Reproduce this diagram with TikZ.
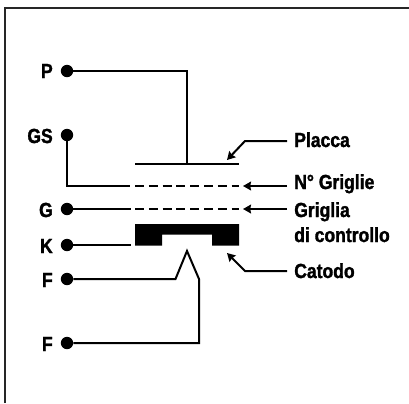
\documentclass[tikz,border=0pt]{standalone}
\usepackage{fontspec}
\setmainfont[FakeStretch=0.86,BoldFeatures={FakeBold=1.5}]{Liberation Sans}
\usetikzlibrary{arrows.meta}

\begin{document}
\begin{tikzpicture}[x=0.025cm,y=-0.025cm,
                every node/.style={font=\fontsize{14.5pt}{14.5pt}\selectfont\bfseries,inner sep=0pt},
                pin/.style={circle,fill=black,minimum size=0.31cm},
                wire/.style={line width=0.05cm},
                griddash/.style={line width=0.05cm,dash pattern=on 0.225cm off 0.12cm},
                pointer/.style={line width=0.05cm,-{Stealth[length=0.2cm,width=0.22cm,inset=0.02cm]}}]
        \useasboundingbox (0,0) rectangle (409,403);
        %----------------  cornice  ----------------
        \draw[line width=0.06cm,black!85] (5,403) -- (5,8) -- (409,8);

        %----------------  piedini  ----------------
        \node[pin] (p)  at (67,71)  {};
        \node[pin] (gs) at (67,135) {};
        \node[pin] (g)  at (67,209) {};
        \node[pin] (k)  at (67,245) {};
        \node[pin] (f1) at (67,279) {};
        \node[pin] (f2) at (67,343) {};
        \node[anchor=base east] at (53,78)  {P};
        \node[anchor=base east] at (53,143) {GS};
        \node[anchor=base east] at (53,217) {G};
        \node[anchor=base east] at (53,253) {K};
        \node[anchor=base east] at (53,287) {F};
        \node[anchor=base east] at (53,351) {F};

        %----------------  valvola  ----------------
        \coordinate (pl) at (135,164);
        \coordinate (pr) at (239,164);
        \coordinate (pm) at (187,164);
        \coordinate (sl) at (135,186);
        \coordinate (sr) at (239,186);
        \coordinate (gl) at (135,209);
        \coordinate (gr) at (239,209);
        \draw[wire] (pl) -- (pr);
        \draw[griddash] (sl) -- (sr);
        \draw[griddash] (gl) -- (gr);
        \fill (135,224) -- (239,224) -- (239,245.5) -- (212,245.5) -- (212,234.5)
              -- (162,234.5) -- (162,245.5) -- (135,245.5) -- cycle;

        \coordinate (se) at (130,186);
        \coordinate (ge) at (131,209);
        \coordinate (ke) at (131,245);
        \draw[wire] (p) -| (pm);
        \draw[wire] (gs) |- (se);
        \draw[wire] (g) -- (ge);
        \draw[wire] (k) -- (ke);
        \draw[wire,line join=miter] (f1) -- (175.5,279) -- (187,251) -- (199,279) |- (f2);

        %----------------  etichette  ----------------
        \node[anchor=base west] (placca)  at (294,147) {Placca};
        \node[anchor=base west] (griglie) at (294,189) {N° Griglie};
        \node[anchor=base west] (griglia) at (294,217) {Griglia};
        \node[anchor=base west] (contr)   at (294,242) {di controllo};
        \node[anchor=base west] (catodo)  at (294,278) {Catodo};
        \coordinate (t1) at (227,160);
        \coordinate (t2) at (243,186);
        \coordinate (t3) at (243,209);
        \coordinate (t4) at (227,253);
        \draw[pointer] (287,141) -- (245,141) -- (t1);
        \draw[pointer] (287,186) -- (t2);
        \draw[pointer] (287,209) -- (t3);
        \draw[pointer] (287,271) -- (245,271) -- (t4);
\end{tikzpicture}
\end{document}
